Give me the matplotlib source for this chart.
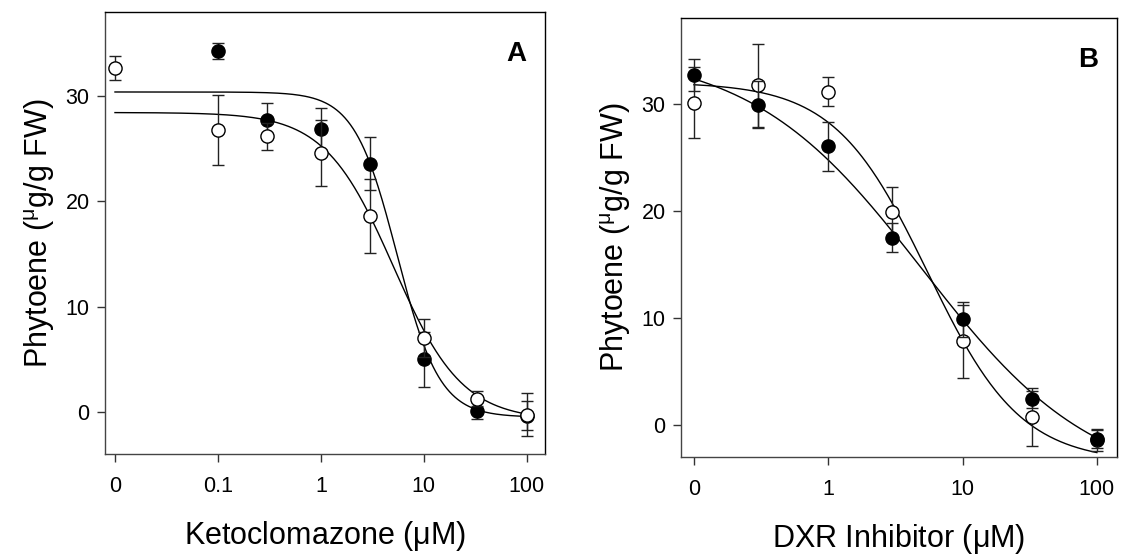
import numpy as np
import matplotlib
matplotlib.use('Agg')
import matplotlib.pyplot as plt
from matplotlib.ticker import FixedLocator, FixedFormatter, NullLocator

plt.rcParams['font.family'] = ['Liberation Sans', 'DejaVu Sans']
plt.rcParams['mathtext.fontset'] = 'custom'
plt.rcParams['mathtext.rm'] = 'Liberation Sans'
plt.rcParams['mathtext.it'] = 'Liberation Sans'

#--------------------------------------------#
# data, panel A (ketoclomazone); "0" is drawn at 0.01
a_x_closed = [0.1, 0.3, 1, 3, 10, 33, 100]
a_y_closed = [34.3, 27.7, 26.9, 23.6, 5.0, 0.1, -0.35]
a_e_closed = [0.8, 1.7, 2.0, 2.5, 2.6, 0.8, 1.4]

a_x_open = [0.01, 0.1, 0.3, 1, 3, 10, 33, 100]
a_y_open = [32.7, 26.8, 26.2, 24.6, 18.6, 7.05, 1.27, -0.25]
a_e_open = [1.15, 3.35, 1.3, 3.1, 3.5, 1.8, 0.7, 2.0]

# data, panel B (DXR inhibitor); "0" is drawn at 0.1
b_x = [0.1, 0.3, 1, 3, 10, 33, 100]
b_y_closed = [32.7, 29.9, 26.0, 17.5, 9.85, 2.4, -1.35]
b_e_closed = [1.5, 2.2, 2.3, 1.4, 1.6, 0.8, 0.85]
b_y_open = [30.1, 31.7, 31.1, 19.9, 7.8, 0.75, -1.4]
b_e_open = [3.3, 3.9, 1.35, 2.3, 3.4, 2.7, 1.0]

# fitted 4-parameter logistic curves: (top, bottom, ec50, hill)
a_fit_closed = (30.4, -0.5, 5.5, 2.1)
a_fit_open = (28.45, -0.8, 5.07, 1.3)
b_fit_closed = (35.0, -6.0, 5.04, 0.678)
b_fit_open = (32.0, -3.5, 5.5, 1.253)

a_ticks = [0.01, 0.1, 1, 10, 100]
a_ticklabels = ['0', '0.1', '1', '10', '100']
b_ticks = [0.1, 1, 10, 100]
b_ticklabels = ['0', '1', '10', '100']
y_ticks = [0, 10, 20, 30]


def logistic(x, p):
    top, bot, ec, h = p
    return bot + (top - bot) / (1 + (x / ec) ** h)

#--------------------------------------------#

fig = plt.figure(figsize=(11.21, 5.58), dpi=100)
ax_a = fig.add_axes([105/1121, 1 - 454/558, 440/1121, 442/558])
ax_b = fig.add_axes([681/1121, 1 - 457/558, 436/1121, 439/558])

mk = dict(marker='o', markersize=9.5, markeredgewidth=1.0, markeredgecolor='black',
          linestyle='none', ecolor='#222222', elinewidth=1.0, capsize=4.5, capthick=1.0)


def draw_panel(ax, curves, series, xlim, ylim, ticks, ticklabels, xlabel, letter):
    for xs, p in curves:
        xx = np.logspace(np.log10(xs[0]), np.log10(xs[1]), 300)
        ax.plot(xx, logistic(xx, p), color='black', lw=1.0, zorder=2)
    for i, (x, y, e, fc) in enumerate(series):
        ax.errorbar(x, y, yerr=e, markerfacecolor=fc, zorder=3 + i, **mk)
    ax.set_xscale('log')
    ax.set_xlim(*xlim)
    ax.set_ylim(*ylim)
    ax.xaxis.set_major_locator(FixedLocator(ticks))
    ax.xaxis.set_major_formatter(FixedFormatter(ticklabels))
    ax.xaxis.set_minor_locator(NullLocator())
    ax.set_yticks(y_ticks)
    ax.tick_params(direction='out', length=6, width=1, labelsize=15.5, colors='#333333',
                   labelcolor='black', pad=10)
    ax.tick_params(axis='y', pad=5)
    for s in ['left', 'bottom']:
        ax.spines[s].set_color('#444444')
    for s in ['top', 'right']:
        ax.spines[s].set_color('black')
    for s in ax.spines.values():
        s.set_linewidth(1.0)
    ax.set_xlabel(xlabel, fontsize=22, labelpad=16)
    ax.set_ylabel(r'Phytoene ($^{\mu}$g/g FW)', fontsize=22, labelpad=6)
    ax.text(0.957, 0.905, letter, transform=ax.transAxes, fontsize=20,
            fontweight='bold', ha='right', va='center')


draw_panel(ax_a,
           [((0.01, 100), a_fit_closed), ((0.01, 100), a_fit_open)],
           [(a_x_closed, a_y_closed, a_e_closed, 'black'),
            (a_x_open, a_y_open, a_e_open, 'white')],
           (10**-2.097, 10**2.178), (-4, 38), a_ticks, a_ticklabels,
           r'Ketoclomazone ($\mu$M)', 'A')

draw_panel(ax_b,
           [((0.1, 100), b_fit_closed), ((0.1, 100), b_fit_open)],
           [(b_x, b_y_open, b_e_open, 'white'),
            (b_x, b_y_closed, b_e_closed, 'black')],
           (10**-1.0965, 10**2.15), (-3, 38), b_ticks, b_ticklabels,
           r'DXR Inhibitor ($\mu$M)', 'B')

fig.savefig('out.png', dpi=100)
